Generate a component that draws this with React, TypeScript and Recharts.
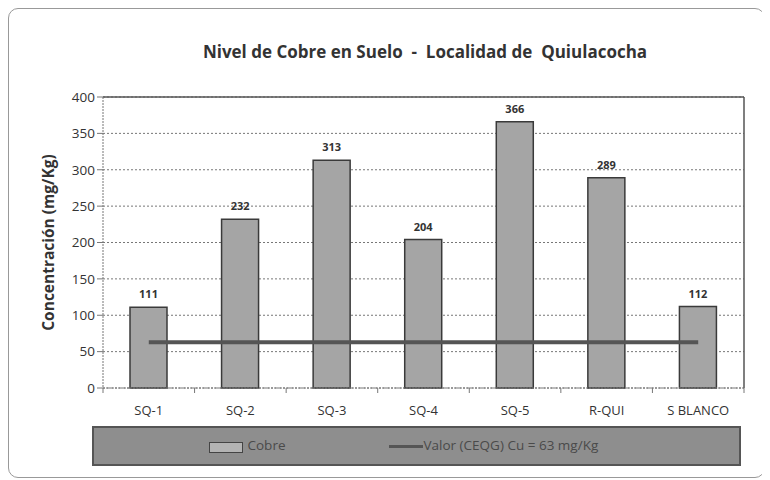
import React from "react";
import {
  Bar,
  CartesianGrid,
  ComposedChart,
  LabelList,
  Legend,
  Line,
  XAxis,
  YAxis,
} from "recharts";

const CATEGORIES = ["SQ-1", "SQ-2", "SQ-3", "SQ-4", "SQ-5", "R-QUI", "S BLANCO"];
const COBRE = [111, 232, 313, 204, 366, 289, 112];
const LIMITE = [63, 63, 63, 63, 63, 63, 63];
const Y_TICKS = [0, 50, 100, 150, 200, 250, 300, 350, 400];

const FONT = "'Open Sans', 'Noto Sans', sans-serif";
const BAND = (736 - 95) / CATEGORIES.length;

const data = CATEGORIES.map((name, i) => ({
  name,
  cobre: COBRE[i],
  limite: LIMITE[i],
}));

function CategoryTick(props: any) {
  const { x, y, payload, index } = props;
  const last = index === CATEGORIES.length - 1;
  return (
    <g>
      <line x1={x - BAND / 2} x2={x - BAND / 2} y1={y - 8} y2={y - 3} stroke="#777" />
      {last && (
        <line x1={x + BAND / 2} x2={x + BAND / 2} y1={y - 8} y2={y - 3} stroke="#777" />
      )}
      <text x={x} y={y + 19} textAnchor="middle" fill="#333" fontSize={13} fontFamily={FONT}>
        {payload.value}
      </text>
    </g>
  );
}

function LegendBox() {
  return (
    <div
      style={{
        width: 649,
        height: 40,
        background: "#8e8e8e",
        border: "2px solid #555",
        boxSizing: "border-box",
        position: "relative",
        fontFamily: FONT,
        fontSize: 13.5,
        color: "#4a4a4a",
      }}
    >
      <div
        style={{
          position: "absolute",
          left: 115,
          top: 14,
          width: 32,
          height: 9,
          background: "#b3b3b3",
          border: "1px solid #444",
        }}
      />
      <span style={{ position: "absolute", left: 154, top: 8 }}>Cobre</span>
      <div
        style={{
          position: "absolute",
          left: 295,
          top: 17,
          width: 34,
          height: 3,
          background: "#555",
        }}
      />
      <span style={{ position: "absolute", left: 330, top: 8 }}>Valor (CEQG) Cu = 63 mg/Kg</span>
    </div>
  );
}

export default function App() {
  return (
    <div
      style={{
        position: "relative",
        width: 757,
        height: 470,
        border: "1.5px solid #999",
        borderRadius: 10,
        boxSizing: "border-box",
        background: "#fff",
      }}
    >
      <div
        style={{
          position: "absolute",
          top: 31,
          left: 0,
          width: 832,
          textAlign: "center",
          fontFamily: FONT,
          fontWeight: 700,
          fontSize: 17,
          color: "#333",
          whiteSpace: "pre",
        }}
      >
        {"Nivel de Cobre en Suelo  -  Localidad de  Quiulacocha"}
      </div>
      <ComposedChart
        width={757}
        height={470}
        data={data}
        margin={{ top: 89, right: 21, bottom: 50, left: 0 }}
        style={{ position: "absolute", left: -1.5, top: -1.5 }}
      >
        <CartesianGrid vertical={false} stroke="#777" strokeDasharray="2 2" />
        <CartesianGrid
          stroke="#555"
          strokeWidth={1.5}
          horizontalCoordinatesGenerator={({ offset }: any) => [offset.top]}
          verticalCoordinatesGenerator={({ offset }: any) => [offset.left + offset.width]}
        />
        <XAxis
          dataKey="name"
          tickLine={false}
          axisLine={{ stroke: "#777", strokeDasharray: "2 1" }}
          tick={<CategoryTick />}
          interval={0}
          height={40}
        />
        <YAxis
          width={95}
          domain={[0, 400]}
          ticks={Y_TICKS}
          interval={0}
          tickLine={{ stroke: "#777" }}
          tickSize={6}
          axisLine={{ stroke: "#777", strokeDasharray: "2 1" }}
          tick={{ fill: "#333", fontSize: 13.5, fontFamily: FONT }}
          label={{
            value: "Concentración (mg/Kg)",
            angle: -90,
            position: "insideLeft",
            offset: 40,
            style: {
              textAnchor: "middle",
              fill: "#333",
              fontSize: 15.5,
              fontWeight: 700,
              fontFamily: FONT,
            },
          }}
        />
        <Legend
          layout="horizontal"
          verticalAlign="middle"
          align="center"
          content={() => <LegendBox />}
          wrapperStyle={{ position: "absolute", left: 84, top: 418, width: 649 }}
        />
        <Bar
          dataKey="cobre"
          name="Cobre"
          barSize={37}
          fill="#a5a5a5"
          stroke="#3a3a3a"
          strokeWidth={1.5}
          isAnimationActive={false}
        >
          <LabelList
            dataKey="cobre"
            position="top"
            offset={9}
            style={{ fill: "#333", fontSize: 11, fontWeight: 700, fontFamily: FONT }}
          />
        </Bar>
        <Line
          dataKey="limite"
          name="Valor (CEQG) Cu = 63 mg/Kg"
          stroke="#555"
          strokeWidth={4}
          dot={false}
          activeDot={false}
          isAnimationActive={false}
        />
      </ComposedChart>
    </div>
  );
}
